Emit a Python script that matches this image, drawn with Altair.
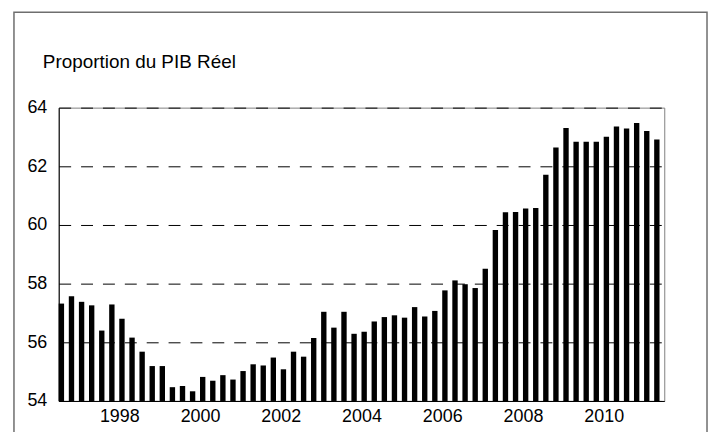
import altair as alt
import pandas as pd

# Quarterly observations, 1996 T3 to 2011 T2
quarter_labels = [
    "1996T3", "1996T4",
    "1997T1", "1997T2", "1997T3", "1997T4",
    "1998T1", "1998T2", "1998T3", "1998T4",
    "1999T1", "1999T2", "1999T3", "1999T4",
    "2000T1", "2000T2", "2000T3", "2000T4",
    "2001T1", "2001T2", "2001T3", "2001T4",
    "2002T1", "2002T2", "2002T3", "2002T4",
    "2003T1", "2003T2", "2003T3", "2003T4",
    "2004T1", "2004T2", "2004T3", "2004T4",
    "2005T1", "2005T2", "2005T3", "2005T4",
    "2006T1", "2006T2", "2006T3", "2006T4",
    "2007T1", "2007T2", "2007T3", "2007T4",
    "2008T1", "2008T2", "2008T3", "2008T4",
    "2009T1", "2009T2", "2009T3", "2009T4",
    "2010T1", "2010T2", "2010T3", "2010T4",
    "2011T1", "2011T2",
]

share_of_real_gdp = [
    57.32, 57.57,
    57.38, 57.26, 56.40, 57.29,
    56.80, 56.16, 55.68, 55.19,
    55.19, 54.47, 54.51, 54.33,
    54.82, 54.69, 54.88, 54.73,
    55.02, 55.25, 55.21, 55.48,
    55.08, 55.68, 55.51, 56.15,
    57.04, 56.50, 57.04, 56.29,
    56.36, 56.71, 56.86, 56.92,
    56.84, 57.20, 56.88, 57.07,
    57.77, 58.11, 57.98, 57.85,
    58.51, 59.83, 60.43, 60.44,
    60.56, 60.58, 61.71, 62.64,
    63.31, 62.84, 62.84, 62.84,
    63.01, 63.36, 63.29, 63.48,
    63.20, 62.91,
]

year_ticks = [1998, 2000, 2002, 2004, 2006, 2008, 2010]
value_ticks = [54, 56, 58, 60, 62, 64]
chart_title = "Proportion du PIB Réel"

FONT = "Liberation Sans"

pos = [int(q[:4]) + (int(q[5]) - 1) / 4 for q in quarter_labels]
df = pd.DataFrame({
    "trimestre": quarter_labels,
    "t": pos,
    "t2": [p + 0.133 for p in pos],
    "valeur": share_of_real_gdp,
})

bars = alt.Chart(df).mark_rect(color="black").encode(
    x=alt.X(
        "t:Q",
        scale=alt.Scale(domain=[1996.5, 2011.5], nice=False, zero=False),
        axis=alt.Axis(
            values=year_ticks, format="d", grid=False, ticks=False,
            labelPadding=7, domainColor="black", title=None,
        ),
    ),
    x2="t2:Q",
    y=alt.Y(
        "valeur:Q",
        scale=alt.Scale(domain=[54, 64], nice=False, zero=False),
        axis=alt.Axis(
            values=value_ticks, grid=True, gridDash=[12, 10], gridColor="black",
            gridOpacity=1, ticks=False, labelPadding=12, domainColor="black",
            title=None,
        ),
    ),
    y2=alt.datum(54),
    tooltip=["trimestre:N", "valeur:Q"],
)

frame = alt.Chart(alt.Data(values=[{}])).mark_rect(
    fill=None, stroke="#6e6e6e", strokeWidth=1.5, clip=False
).encode(
    x=alt.value(-45), x2=alt.value(652), y=alt.value(-96), y2=alt.value(360)
)

title_text = alt.Chart(alt.Data(values=[{"label": chart_title}])).mark_text(
    align="left", baseline="alphabetic", fontSize=19, font=FONT, color="black"
).encode(
    x=alt.value(-16), y=alt.value(-40), text="label:N"
)

chart = alt.layer(bars, frame, title_text).properties(
    width=609,
    height=295,
    padding={"left": 51, "top": 99, "right": 45, "bottom": 30},
    autosize=alt.AutoSizeParams(type="none"),
    background="white",
).configure_view(
    stroke="#808080", strokeWidth=1
).configure_axis(
    labelFont=FONT, labelFontSize=18, labelColor="black", domainWidth=1
)

chart.save("out.html", embed_options={"renderer": "svg", "actions": False})
